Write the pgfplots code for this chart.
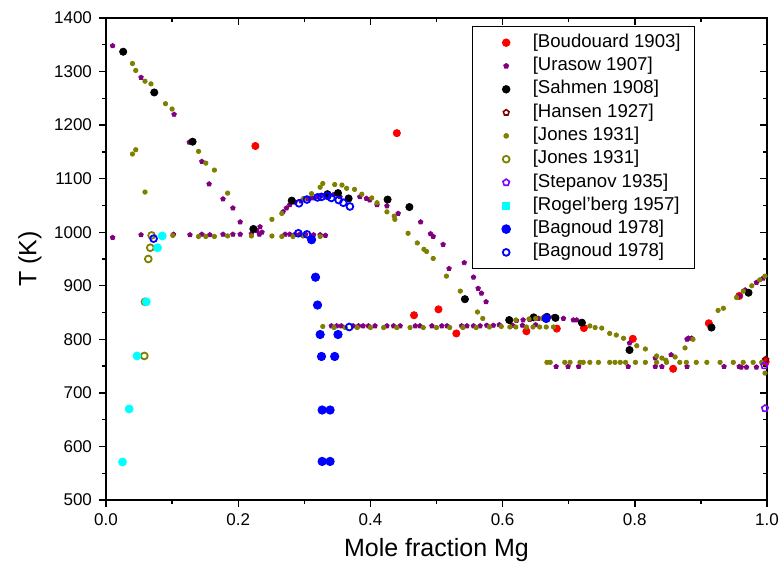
\documentclass[border=0pt]{standalone}
\usepackage{fontspec}
\setmainfont{Liberation Sans}
\usepackage{pgfplots}
\pgfplotsset{compat=1.18}
\definecolor{urasow}{RGB}{128,0,128}
\definecolor{jones}{RGB}{128,128,0}
\definecolor{hansen}{RGB}{128,0,0}
\definecolor{stepanov}{RGB}{128,0,255}
\definecolor{bag}{RGB}{0,0,255}
\definecolor{rogel}{RGB}{0,255,255}
\pgfplotsset{
  common/.style={
    at={(0pt,0pt)}, anchor=south west,
    scale only axis, width=330.5pt, height=241pt,
    xmin=0, xmax=1, ymin=500, ymax=1400,
    xtick={0,0.2,0.4,0.6,0.8,1.0}, ytick={500,600,...,1400},
    minor x tick num=1, minor y tick num=1,
    major tick length=3.5pt, minor tick length=2pt,
    every tick/.style={black, line width=0.7pt},
    axis line style={line width=0.8pt},
  }
}
\begin{document}
\begin{tikzpicture}
\path[use as bounding box] (-53pt,-41.5pt) rectangle (338pt,250pt);
% mirrored ticks (top/right, inside)
\begin{axis}[common, xtick pos=right, ytick pos=right, tick align=inside,
  xticklabels={}, yticklabels={}]
\end{axis}
\begin{axis}[common, xtick pos=left, ytick pos=left, tick align=outside,
  /pgf/number format/assume math mode=true,
  /pgf/number format/1000 sep={},
  xticklabel style={/pgf/number format/.cd, fixed, fixed zerofill, precision=1},
  tick label style={font=\fontsize{8.5}{10}\selectfont},
  xlabel={Mole fraction Mg}, ylabel={T (K)},
  every axis x label/.style={at={(axis description cs:0.5,-0.104)}, anchor=center,
    font=\fontsize{12.5}{14}\selectfont},
  every axis y label/.style={at={(axis description cs:-0.115,0.5)}, anchor=center, rotate=90,
    font=\fontsize{12.5}{14}\selectfont},
  legend cell align=left,
  legend image code/.code={\path (0pt,0pt) (22.5pt,0pt); \draw[#1] plot coordinates {(9.5pt,0pt)};},
  legend style={at={(axis description cs:0.5537,0.9834)}, anchor=north west,
    draw=black, line width=0.6pt, fill=white,
    font=\fontsize{9.3}{10}\selectfont,
    inner xsep=7pt, inner ysep=4pt, row sep=3.55pt,
    nodes={inner sep=0pt, text height=6.3pt, text depth=1.8pt}},
]
\addplot[only marks, mark=*, mark size=1.8pt, color=red] coordinates {
(0.226,1161)(0.440,1185)(0.466,845)(0.503,856)(0.530,811)(0.636,815)(0.682,820)
(0.723,821)(0.797,801)(0.858,745)(0.912,830)(0.958,881)(0.998,758)};
\addlegendentry{[Boudouard 1903]}

\addplot[only marks, mark=pentagon*, mark size=1.2pt, color=urasow] coordinates {
(0.010,1348)(0.053,1289)(0.103,1220)(0.126,1168)(0.145,1132)(0.156,1090)(0.177,1062)
(0.192,1045)(0.203,1019)(0.228,1003)(0.233,1010)(0.236,1000)(0.232,996)
(0.010,990)(0.053,995)(0.102,996)(0.127,995)(0.145,996)(0.157,995)(0.177,996)(0.192,996)
(0.203,996)(0.220,997)(0.271,996)(0.278,996)(0.286,996)(0.293,996)(0.302,996)(0.314,995)
(0.324,995)(0.332,994)
(0.268,1038)(0.273,1045)(0.278,1051)(0.286,1056)(0.295,1058)(0.305,1062)(0.312,1064)
(0.319,1066)(0.326,1068)(0.334,1070)(0.344,1070)(0.354,1066)(0.384,1066)(0.394,1063)
(0.399,1060)(0.410,1051)(0.425,1049)(0.442,1035)(0.476,1019)(0.491,997)(0.495,992)
(0.510,977)(0.519,932)(0.542,943)(0.556,916)(0.563,895)(0.568,886)(0.575,870)
(0.341,825)(0.349,825)(0.356,825)(0.374,825)(0.382,825)(0.389,825)(0.397,825)(0.407,825)
(0.425,825)(0.435,825)(0.445,825)(0.468,825)(0.475,825)(0.493,825)(0.508,825)(0.516,825)
(0.538,825)(0.546,825)(0.556,825)(0.566,825)(0.576,826)(0.586,826)(0.595,827)
(0.611,833)(0.621,835)(0.631,836)(0.641,837)(0.654,839)(0.662,841)(0.677,842)(0.692,839)
(0.707,836)(0.712,836)(0.720,833)(0.615,826)(0.630,826)(0.650,827)
(0.792,793)(0.831,765)(0.855,771)(0.879,800)(0.881,802)(0.886,802)(0.959,881)(0.967,892)
(0.984,906)(0.994,914)
(0.681,749)(0.699,749)(0.715,749)(0.790,749)(0.831,749)(0.841,749)(0.879,749)(0.935,749)
(0.958,749)(0.961,748)(0.969,748)(0.984,748)};
\addlegendentry{[Urasow 1907]}

\addplot[only marks, mark=*, mark size=1.8pt, color=black] coordinates {
(0.026,1337)(0.073,1261)(0.131,1169)(0.223,1006)(0.281,1059)(0.335,1071)(0.351,1073)
(0.367,1063)(0.426,1061)(0.459,1047)(0.543,875)(0.610,836)(0.647,841)(0.667,842)
(0.680,840)(0.720,831)(0.792,780)(0.916,822)(0.972,887)};
\addlegendentry{[Sahmen 1908]}

\addplot[only marks, mark=pentagon, mark size=1.5pt, color=hansen, mark options={line width=0.8pt}] coordinates {
(0.998,762)};
\addlegendentry{[Hansen 1927]}

\addplot[only marks, mark=*, mark size=1.1pt, color=jones] coordinates {
(0.040,1315)(0.045,1302)(0.059,1282)(0.068,1277)(0.090,1240)(0.100,1230)(0.140,1151)
(0.151,1129)(0.164,1116)(0.184,1073)
(0.040,1146)(0.045,1154)(0.059,1075)
(0.101,994)(0.140,992)(0.151,992)(0.164,992)(0.184,993)(0.220,993)(0.251,993)(0.266,992)
(0.283,992)(0.298,993)(0.324,992)
(0.251,1024)(0.266,1035)(0.299,1063)(0.311,1072)(0.324,1084)(0.328,1091)(0.346,1089)
(0.357,1088)(0.364,1082)(0.376,1080)(0.387,1071)(0.402,1064)(0.410,1055)(0.425,1038)
(0.436,1030)(0.437,1024)(0.457,998)(0.471,980)(0.481,968)(0.485,964)(0.495,951)(0.515,918)
(0.536,890)(0.562,851)(0.570,839)
(0.328,824)(0.345,822)(0.362,822)(0.380,822)(0.400,822)(0.420,822)(0.440,822)(0.460,822)
(0.480,822)(0.500,822)(0.520,822)(0.540,822)(0.560,822)(0.580,823)(0.598,824)
(0.611,823)(0.620,823)(0.636,823)(0.646,823)(0.656,823)(0.666,823)(0.677,823)
(0.620,836)(0.640,838)(0.650,839)(0.660,839)
(0.732,825)(0.740,822)(0.750,821)(0.762,811)(0.772,808)(0.783,802)(0.803,788)(0.816,782)
(0.833,769)(0.841,765)(0.847,761)(0.861,767)(0.876,784)(0.888,800)(0.926,854)(0.934,858)
(0.954,878)(0.964,890)(0.977,900)(0.989,911)(0.997,918)
(0.667,757)(0.672,757)(0.694,757)(0.702,757)(0.717,757)(0.722,757)(0.732,757)(0.745,757)
(0.762,757)(0.770,757)(0.778,757)(0.786,757)(0.801,757)(0.816,757)(0.833,757)(0.848,757)
(0.868,757)(0.878,757)(0.893,757)(0.909,757)(0.929,757)(0.949,757)(0.964,757)(0.979,757)
(0.992,757)(0.997,737)};
\addlegendentry{[Jones 1931]}

\addplot[only marks, mark=o, mark size=1.7pt, color=jones, mark options={line width=0.9pt}] coordinates {
(0.069,994)(0.067,971)(0.064,950)(0.059,870)(0.058,769)};
\addlegendentry{[Jones 1931]}

\addplot[only marks, mark=pentagon, mark size=1.7pt, color=stepanov, mark options={line width=0.8pt}] coordinates {
(0.997,671)(0.996,751)};
\addlegendentry{[Stepanov 1935]}

\addplot[only marks, mark=*, mark size=2pt, color=rogel, legend image post style={mark=square*, mark size=1.6pt}] coordinates {
(0.025,571)(0.035,670)(0.047,769)(0.061,870)(0.078,971)(0.085,993)};
\addlegendentry{[Rogel'berg 1957]}

\addplot[only marks, mark=*, mark size=2.1pt, color=bag] coordinates {
(0.311,986)(0.317,916)(0.320,864)(0.324,809)(0.351,809)(0.326,768)(0.346,768)
(0.327,668)(0.339,668)(0.327,572)(0.339,572)(0.666,839)};
\addlegendentry{[Bagnoud 1978]}

\addplot[only marks, mark=o, mark size=1.7pt, color=bag, mark options={line width=0.9pt}] coordinates {
(0.072,988)(0.291,998)(0.304,996)(0.292,1054)(0.304,1061)(0.320,1065)(0.326,1066)
(0.335,1068)(0.341,1064)(0.352,1060)(0.359,1055)(0.369,1048)(0.368,823)};
\addlegendentry{[Bagnoud 1978]}
\end{axis}
\end{tikzpicture}
\end{document}
